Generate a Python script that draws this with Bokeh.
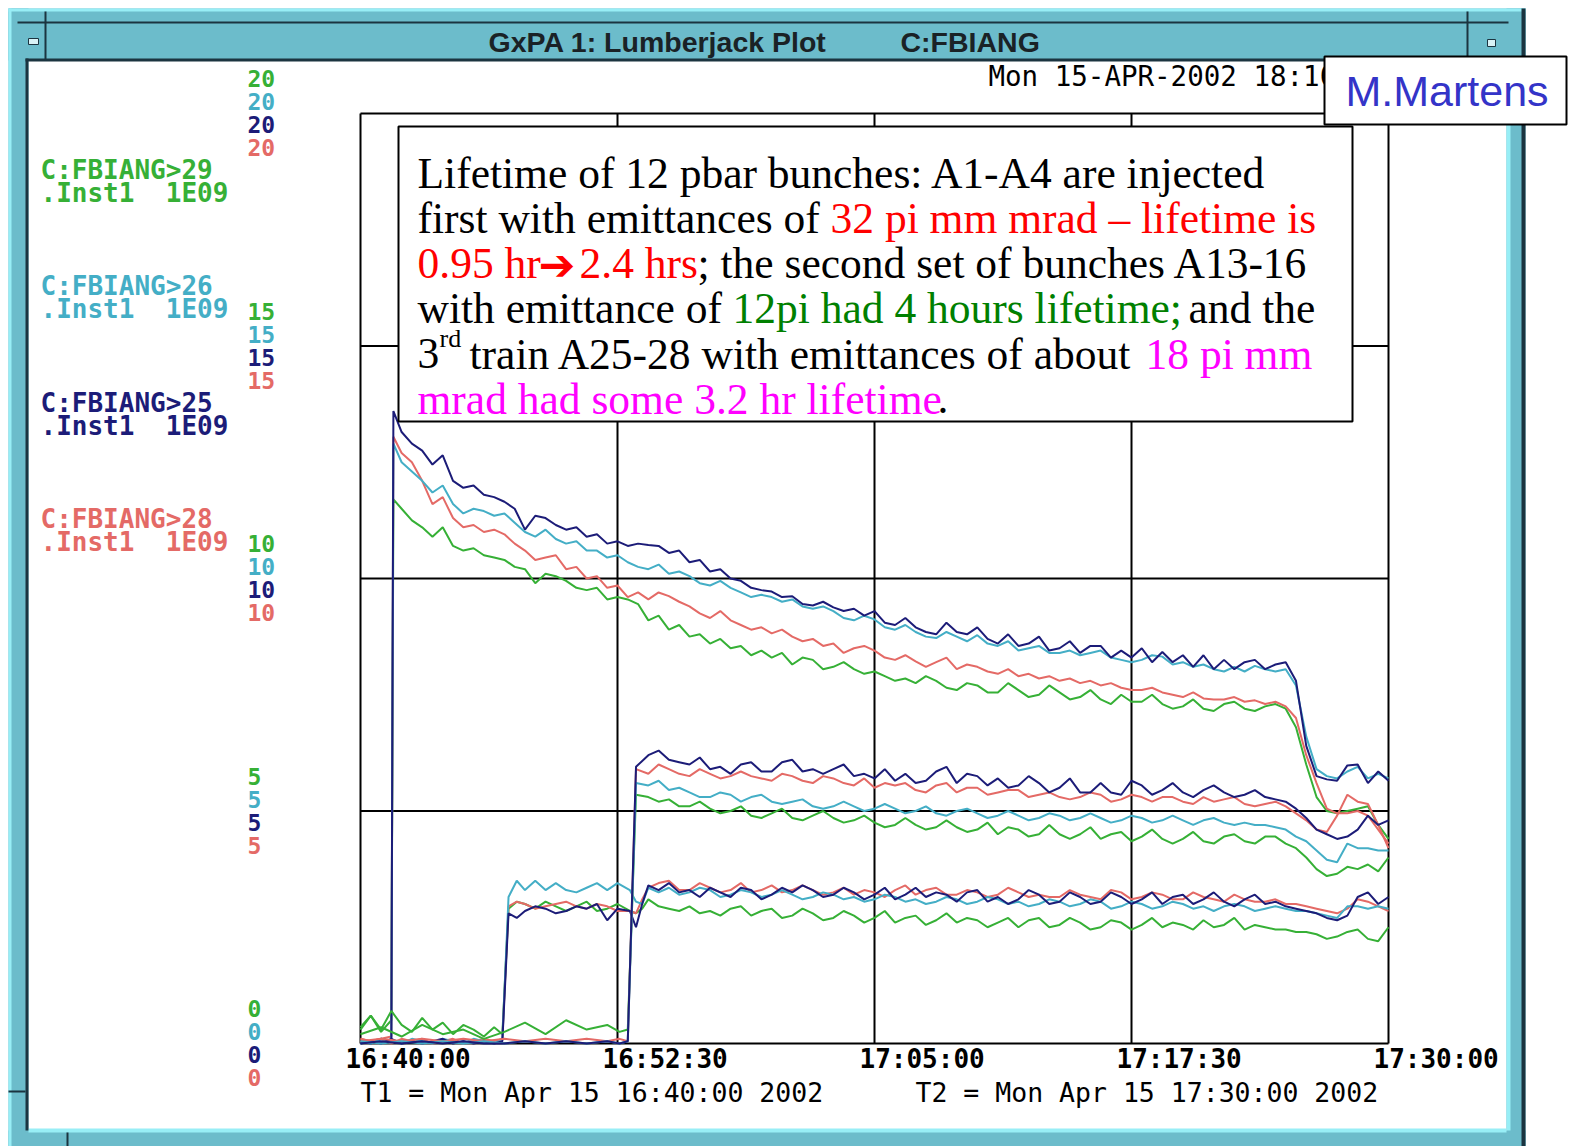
from bokeh.plotting import figure
from bokeh.models import Range1d, Label, BoxAnnotation
from bokeh.embed import file_html
from bokeh.resources import INLINE

# ---------------- data (time in minutes after 16:40:00, intensity in 1E09) -------------
# Train 1 (A1-A4)
T1 = [0, 0.5, 1.0, 1.5, 1.6, 2, 2.5, 3, 3.5, 4,
      4.5, 5, 5.5, 6, 6.5, 7, 7.5, 8, 8.5, 9,
      9.5, 10, 10.5, 11, 11.5, 12, 12.5, 13, 13.5, 14,
      14.5, 15, 15.5, 16, 16.5, 17, 17.5, 18, 18.5, 19,
      19.5, 20, 20.5, 21, 21.5, 22, 22.5, 23, 23.5, 24,
      24.5, 25, 25.5, 26, 26.5, 27, 27.5, 28, 28.5, 29,
      29.5, 30, 30.5, 31, 31.5, 32, 32.5, 33, 33.5, 34,
      34.5, 35, 35.5, 36, 36.5, 37, 37.5, 38, 38.5, 39,
      39.5, 40, 40.5, 41, 41.5, 42, 42.5, 43, 43.5, 44,
      44.5, 45, 45.5, 46, 46.5, 47, 47.5, 48, 48.5, 49,
      49.5, 50]
NAVY_1 = [0.05, 0.0, 0.1, 0.05, 13.6, 13.15, 12.9, 12.75, 12.45, 12.65,
          12.1, 11.95, 12.0, 11.8, 11.75, 11.65, 11.5, 11.05, 11.35, 11.3,
          11.15, 11.05, 11.1, 10.9, 10.95, 10.75, 10.8, 10.7, 10.75, 10.72,
          10.7, 10.55, 10.6, 10.35, 10.4, 10.15, 10.2, 10.0, 9.95, 9.8,
          9.75, 9.72, 9.6, 9.62, 9.45, 9.42, 9.5, 9.38, 9.3, 9.35,
          9.2, 9.3, 9.05, 9.0, 9.15, 8.95, 8.85, 8.8, 9.05, 8.85,
          8.8, 8.95, 8.7, 8.6, 8.8, 8.55, 8.6, 8.75, 8.45, 8.5,
          8.65, 8.4, 8.55, 8.55, 8.3, 8.45, 8.3, 8.5, 8.2, 8.42,
          8.2, 8.35, 8.1, 8.35, 8.05, 8.25, 8.05, 8.2, 8.25, 8.05,
          8.15, 8.2, 7.8, 6.4, 5.75, 5.68, 5.65, 5.98, 6.0, 5.6,
          5.85, 5.65]
CYAN_1 = [0.0, 0.05, 0.0, 0.1, 12.9, 12.5, 12.3, 12.1, 11.85, 12.0,
          11.6, 11.4, 11.5, 11.45, 11.35, 11.4, 11.2, 11.0, 10.9, 11.05,
          10.85, 10.75, 10.8, 10.6, 10.6, 10.45, 10.5, 10.35, 10.25, 10.2,
          10.3, 10.1, 10.15, 10.05, 9.9, 9.85, 9.95, 9.8, 9.7, 9.6,
          9.65, 9.6, 9.5, 9.55, 9.4, 9.35, 9.4, 9.3, 9.15, 9.1,
          9.2, 9.12, 8.95, 8.9, 9.0, 8.85, 8.75, 8.72, 8.85, 8.75,
          8.65, 8.78, 8.6, 8.55, 8.65, 8.45, 8.5, 8.55, 8.4, 8.4,
          8.45, 8.35, 8.4, 8.45, 8.3, 8.25, 8.2, 8.25, 8.35, 8.32,
          8.15, 8.2, 8.1, 8.15, 8.05, 8.0, 8.1, 8.0, 8.12, 8.05,
          8.0, 8.05, 7.7, 6.6, 5.9, 5.75, 5.7, 5.85, 5.95, 5.7,
          5.8, 5.7]
RED_1 = [0.1, 0.05, 0.1, 0.15, 13.05, 12.7, 12.5, 12.1, 11.6, 11.75,
         11.3, 11.1, 11.15, 11.0, 11.05, 10.95, 10.75, 10.6, 10.4, 10.45,
         10.5, 10.2, 10.25, 10.0, 10.05, 9.8, 9.85, 9.6, 9.7, 9.55,
         9.7, 9.62, 9.5, 9.4, 9.25, 9.15, 9.3, 9.1, 9.0, 8.9,
         8.95, 8.82, 8.9, 8.75, 8.65, 8.7, 8.55, 8.6, 8.4, 8.5,
         8.55, 8.45, 8.3, 8.25, 8.35, 8.22, 8.1, 8.2, 8.3, 8.05,
         8.15, 8.1, 8.0, 7.95, 8.05, 7.9, 7.95, 7.85, 7.9, 7.8,
         7.85, 7.75, 7.8, 7.7, 7.75, 7.65, 7.6, 7.6, 7.65, 7.55,
         7.5, 7.45, 7.55, 7.42, 7.4, 7.4, 7.45, 7.35, 7.38, 7.3,
         7.35, 7.25, 7.0, 6.2, 5.6, 5.05, 4.95, 4.95, 5.0, 4.9,
         4.6, 4.3]
GREEN_1 = [0.3, 0.6, 0.25, 0.5, 11.7, 11.5, 11.25, 11.1, 10.9, 11.1,
           10.7, 10.6, 10.65, 10.5, 10.45, 10.4, 10.25, 10.2, 9.9, 10.1,
           10.05, 9.95, 9.8, 9.75, 9.8, 9.55, 9.6, 9.55, 9.45, 9.1,
           9.2, 8.9, 9.0, 8.75, 8.8, 8.6, 8.7, 8.5, 8.55, 8.35,
           8.45, 8.3, 8.4, 8.15, 8.3, 8.25, 8.05, 8.1, 8.2, 8.05,
           7.95, 8.0, 7.9, 7.8, 7.85, 7.75, 7.9, 7.8, 7.65, 7.6,
           7.75, 7.7, 7.55, 7.55, 7.75, 7.6, 7.45, 7.5, 7.7, 7.55,
           7.4, 7.45, 7.6, 7.4, 7.3, 7.5, 7.35, 7.35, 7.5, 7.3,
           7.2, 7.25, 7.4, 7.2, 7.15, 7.3, 7.35, 7.2, 7.15, 7.25,
           7.3, 7.2, 6.8, 6.0, 5.3, 5.0, 4.95, 5.0, 5.05, 5.1,
           4.7, 4.4]

# Train 2 (A13-16)
T2 = [0, 0.5, 1, 1.5, 2, 2.5, 3, 3.5, 4, 4.5,
      5, 5.5, 6, 6.5, 6.9, 7.2, 7.6, 8, 8.5, 9,
      9.5, 10, 10.5, 11, 11.5, 12, 12.5, 13.1, 13.4, 13.7,
      14, 14.5, 15, 15.5, 16, 16.5, 17, 17.5, 18, 18.5,
      19, 19.5, 20, 20.5, 21, 21.5, 22, 22.5, 23, 23.5,
      24, 24.5, 25, 25.5, 26, 26.5, 27, 27.5, 28, 28.5,
      29, 29.5, 30, 30.5, 31, 31.5, 32, 32.5, 33, 33.5,
      34, 34.5, 35, 35.5, 36, 36.5, 37, 37.5, 38, 38.5,
      39, 39.5, 40, 40.5, 41, 41.5, 42, 42.5, 43, 43.5,
      44, 44.5, 45, 45.5, 46, 46.5, 47, 47.5, 48, 48.5,
      49, 49.5, 50]
NAVY_2 = [0.0, 0.05, 0.0, 0.1, 0.0, 0.05, 0.0, 0.05, 0.1, 0.0,
          0.05, 0.0, 0.05, 0.0, 0.05, 2.8, 2.7, 2.85, 2.95, 2.9,
          2.8, 2.85, 2.95, 2.9, 3.0, 2.65, 2.9, 2.85, 2.5, 3.0,
          3.4, 3.3, 3.45, 3.25, 3.3, 3.15, 3.35, 3.25, 3.15, 3.35,
          3.3, 3.1, 3.2, 3.35, 3.25, 3.4, 3.3, 3.15, 3.2, 3.35,
          3.25, 3.1, 3.2, 3.35, 3.1, 3.2, 3.35, 3.15, 3.25, 3.2,
          3.05, 3.25, 3.3, 3.05, 3.15, 3.0, 3.1, 3.3, 3.2, 3.0,
          3.05, 3.25, 3.15, 3.0, 3.05, 3.25, 3.15, 3.0, 3.1, 3.25,
          3.0, 3.15, 3.2, 3.0, 3.1, 3.25, 3.05, 2.95, 3.1, 3.2,
          3.0, 3.05, 2.95, 2.9, 2.85, 2.8, 2.7, 2.65, 2.75, 3.15,
          3.25, 3.0, 3.15]
RED_2 = [0.1, 0.05, 0.1, 0.0, 0.1, 0.05, 0.1, 0.0, 0.05, 0.1,
         0.0, 0.05, 0.1, 0.05, 0.1, 2.95, 3.05, 3.0, 2.9, 2.95,
         3.0, 3.05, 2.95, 2.9, 3.0, 2.95, 2.85, 2.85, 2.8, 3.1,
         3.35, 3.45, 3.5, 3.3, 3.3, 3.45, 3.35, 3.25, 3.3, 3.45,
         3.25, 3.3, 3.4, 3.25, 3.3, 3.4, 3.3, 3.2, 3.25, 3.35,
         3.2, 3.3, 3.25, 3.15, 3.3, 3.4, 3.2, 3.3, 3.35, 3.2,
         3.2, 3.3, 3.25, 3.15, 3.2, 3.35, 3.25, 3.15, 3.2, 3.15,
         3.15, 3.3, 3.2, 3.15, 3.1, 3.3, 3.25, 3.1, 3.15, 3.25,
         3.2, 3.1, 3.1, 3.25, 3.15, 3.1, 3.05, 3.2, 3.1, 3.05,
         3.05, 3.1, 3.0, 3.0, 2.95, 2.9, 2.85, 2.8, 2.9, 3.1,
         3.05, 2.95, 2.85]
CYAN_2 = [0.05, 0.0, 0.1, 0.05, 0.0, 0.1, 0.05, 0.0, 0.1, 0.05,
          0.0, 0.1, 0.05, 0.0, 0.1, 3.15, 3.5, 3.3, 3.5, 3.3,
          3.45, 3.3, 3.25, 3.35, 3.45, 3.3, 3.45, 3.3, 3.05, 3.0,
          3.35, 3.25, 3.35, 3.2, 3.25, 3.35, 3.3, 3.15, 3.2, 3.3,
          3.25, 3.15, 3.2, 3.3, 3.2, 3.1, 3.15, 3.25, 3.2, 3.1,
          3.15, 3.05, 3.1, 3.2, 3.15, 3.05, 3.1, 3.0, 3.05, 3.15,
          3.1, 3.0, 3.05, 3.15, 3.1, 3.0, 3.05, 2.95, 3.0, 3.1,
          3.05, 2.95, 3.0, 3.1, 3.05, 2.9, 2.95, 3.05, 3.0, 2.9,
          2.95, 3.05, 3.0, 2.9, 2.95, 2.85, 2.95, 3.0, 2.95, 2.85,
          2.9, 2.95, 2.9, 2.85, 2.85, 2.8, 2.75, 2.7, 2.95, 2.95,
          2.9, 2.95, 2.9]
GREEN_2 = [0.35, 0.6, 0.3, 0.7, 0.4, 0.25, 0.55, 0.3, 0.45, 0.2,
           0.4, 0.3, 0.15, 0.35, 0.2, 2.9, 3.05, 3.0, 2.9, 3.05,
           2.95, 2.85, 2.95, 3.05, 2.85, 2.9, 3.0, 2.85, 2.8, 2.9,
           3.1, 2.95, 2.9, 2.85, 2.95, 2.8, 2.85, 2.75, 2.9, 2.95,
           2.75, 2.85, 2.9, 2.7, 2.75, 2.9, 2.8, 2.65, 2.7, 2.85,
           2.75, 2.6, 2.7, 2.85, 2.6, 2.7, 2.75, 2.55, 2.65, 2.8,
           2.6, 2.7, 2.65, 2.5, 2.6, 2.7, 2.5, 2.65, 2.7, 2.5,
           2.55, 2.7, 2.6, 2.45, 2.5, 2.65, 2.6, 2.45, 2.55, 2.7,
           2.5, 2.6, 2.55, 2.45, 2.65, 2.5, 2.55, 2.7, 2.45, 2.55,
           2.5, 2.45, 2.45, 2.4, 2.4, 2.35, 2.25, 2.3, 2.4, 2.45,
           2.25, 2.2, 2.5]

# Train 3 (A25-28)
T3 = [0, 1, 2, 3, 4, 5, 6, 7, 8, 9,
      10, 11, 12, 12.6, 13.0, 13.4, 14, 14.5, 15, 15.5,
      16, 16.5, 17, 17.5, 18, 18.5, 19, 19.5, 20, 20.5,
      21, 21.5, 22, 22.5, 23, 23.5, 24, 24.5, 25, 25.5,
      26, 26.5, 27, 27.5, 28, 28.5, 29, 29.5, 30, 30.5,
      31, 31.5, 32, 32.5, 33, 33.5, 34, 34.5, 35, 35.5,
      36, 36.5, 37, 37.5, 38, 38.5, 39, 39.5, 40, 40.5,
      41, 41.5, 42, 42.5, 43, 43.5, 44, 44.5, 45, 45.5,
      46, 46.5, 47, 47.5, 48, 48.5, 49, 49.5, 50]
NAVY_3 = [0.0, 0.05, 0.0, 0.05, 0.0, 0.05, 0.0, 0.0, 0.05, 0.0,
          0.05, 0.0, 0.05, 0.0, 0.05, 5.95, 6.2, 6.3, 6.1, 6.05,
          6.0, 6.15, 5.9, 5.95, 5.8, 6.0, 6.05, 5.85, 5.85, 6.05,
          6.1, 5.85, 5.9, 5.8, 5.9, 6.0, 5.75, 5.8, 5.7, 5.9,
          5.65, 5.8, 5.6, 5.65, 5.85, 5.95, 5.6, 5.8, 5.75, 5.55,
          5.7, 5.5, 5.55, 5.75, 5.6, 5.4, 5.5, 5.7, 5.4, 5.4,
          5.6, 5.4, 5.35, 5.65, 5.55, 5.35, 5.45, 5.6, 5.4, 5.3,
          5.45, 5.55, 5.4, 5.3, 5.35, 5.45, 5.3, 5.25, 5.2, 5.05,
          4.85, 4.6, 4.5, 4.4, 4.45, 4.6, 4.9, 4.7, 4.8]
RED_3 = [0.05, 0.1, 0.05, 0.1, 0.05, 0.1, 0.05, 0.1, 0.05, 0.1,
         0.05, 0.1, 0.05, 0.1, 0.05, 5.9, 5.8, 6.0, 5.9, 5.8,
         5.75, 5.9, 5.8, 5.7, 5.75, 5.85, 5.75, 5.7, 5.65, 5.8,
         5.75, 5.65, 5.6, 5.75, 5.7, 5.6, 5.55, 5.7, 5.5, 5.6,
         5.55, 5.6, 5.45, 5.4, 5.55, 5.6, 5.4, 5.5, 5.5, 5.35,
         5.4, 5.45, 5.45, 5.3, 5.35, 5.4, 5.3, 5.25, 5.3, 5.4,
         5.35, 5.2, 5.25, 5.35, 5.3, 5.2, 5.3, 5.3, 5.2, 5.15,
         5.3, 5.2, 5.25, 5.3, 5.15, 5.1, 5.15, 5.2, 5.1, 4.95,
         4.8, 4.6, 4.55, 4.9, 5.35, 5.2, 5.15, 4.7, 4.2]
CYAN_3 = [0.05, 0.0, 0.05, 0.0, 0.05, 0.0, 0.05, 0.0, 0.05, 0.0,
          0.05, 0.0, 0.05, 0.0, 0.05, 5.6, 5.55, 5.65, 5.45, 5.5,
          5.4, 5.3, 5.3, 5.4, 5.35, 5.2, 5.3, 5.35, 5.2, 5.15,
          5.2, 5.25, 5.1, 5.05, 5.1, 5.2, 5.1, 5.0, 5.05, 5.15,
          5.05, 4.95, 5.0, 5.1, 4.95, 4.9, 5.0, 5.05, 4.95, 4.85,
          4.9, 5.0, 4.9, 4.8, 4.85, 4.95, 4.9, 4.8, 4.85, 4.95,
          4.85, 4.75, 4.8, 4.9, 4.85, 4.75, 4.8, 4.9, 4.8, 4.7,
          4.8, 4.85, 4.75, 4.7, 4.75, 4.7, 4.7, 4.65, 4.6, 4.45,
          4.35, 4.15, 3.95, 3.9, 4.3, 4.2, 4.2, 4.15, 4.15]
GREEN_3 = [0.2, 0.35, 0.15, 0.4, 0.2, 0.3, 0.1, 0.25, 0.45, 0.2,
           0.5, 0.3, 0.4, 0.25, 0.3, 5.35, 5.3, 5.2, 5.25, 5.1,
           5.1, 5.2, 5.05, 4.95, 5.0, 5.1, 4.9, 4.85, 4.95, 5.05,
           4.85, 4.8, 4.9, 5.0, 4.85, 4.75, 4.8, 4.9, 4.75, 4.65,
           4.7, 4.85, 4.7, 4.6, 4.65, 4.8, 4.65, 4.55, 4.6, 4.75,
           4.5, 4.65, 4.6, 4.45, 4.5, 4.7, 4.5, 4.4, 4.5, 4.65,
           4.4, 4.5, 4.55, 4.35, 4.45, 4.6, 4.4, 4.3, 4.4, 4.55,
           4.35, 4.3, 4.45, 4.5, 4.35, 4.3, 4.45, 4.45, 4.3, 4.2,
           4.0, 3.75, 3.6, 3.65, 3.8, 3.75, 3.85, 3.7, 4.0]

X_TICKS = [0, 12.5, 25, 37.5, 50]
X_TICK_LABELS = ["16:40:00", "16:52:30", "17:05:00", "17:17:30", "17:30:00"]
Y_TICKS = [0, 5, 10, 15, 20]
PENS = ["C:FBIANG>29", "C:FBIANG>26", "C:FBIANG>25", "C:FBIANG>28"]
PEN_UNIT = ".Inst1\u00a0\u00a01E09"

# ---------------- styles / layout -------------
NAVY = "#1c1c78"
CYAN = "#44aec6"
RED = "#e46a66"
GREEN = "#36b036"
PEN_COLORS = [GREEN, CYAN, NAVY, RED]
TEAL = "#6cbccb"
LIGHT = "#98eef6"
DARK = "#1b3440"
MONO = "DejaVu Sans Mono"
SERIF = "Liberation Serif"

W, H = 1573, 1146
PL, PR, PT, PB = 360, 1388, 113, 1043     # plot-area box on the canvas (px)
KX = (PR - PL) / (X_TICKS[-1] - X_TICKS[0])
KY = (PB - PT) / (Y_TICKS[-1] - Y_TICKS[0])
x_range = Range1d(X_TICKS[0] - PL / KX, X_TICKS[0] + (W - PL) / KX)
y_range = Range1d(Y_TICKS[0] - (H - PB) / KY, Y_TICKS[0] + PB / KY)


def sx(cx):
    return cx


def sy(cy):
    return H - cy


p = figure(frame_width=W, frame_height=H, min_border=0,
           x_range=x_range, y_range=y_range,
           output_backend="svg", toolbar_location=None,
           background_fill_color="white", border_fill_color="white")
p.xaxis.visible = False
p.yaxis.visible = False
p.grid.visible = False
p.outline_line_color = None

# plot box and grid (in data coordinates)
x0, x1 = X_TICKS[0], X_TICKS[-1]
y0, y1 = Y_TICKS[0], Y_TICKS[-1]
p.segment(x0=X_TICKS, y0=[y0] * len(X_TICKS), x1=X_TICKS, y1=[y1] * len(X_TICKS),
          line_color="black", line_width=2)
p.segment(x0=[x0] * len(Y_TICKS), y0=Y_TICKS, x1=[x1] * len(Y_TICKS), y1=Y_TICKS,
          line_color="black", line_width=2)

for t, g, r, c, n in [(T1, GREEN_1, RED_1, CYAN_1, NAVY_1),
                      (T2, GREEN_2, RED_2, CYAN_2, NAVY_2),
                      (T3, GREEN_3, RED_3, CYAN_3, NAVY_3)]:
    p.line(t, g, line_color=GREEN, line_width=2)
    p.line(t, r, line_color=RED, line_width=2)
    p.line(t, c, line_color=CYAN, line_width=2)
    p.line(t, n, line_color=NAVY, line_width=2)


def box(bx0, by0, bx1, by1, fill, line=None, lw=0):
    b = BoxAnnotation(left=sx(bx0), right=sx(bx1), top=sy(by0), bottom=sy(by1),
                      left_units="screen", right_units="screen",
                      top_units="screen", bottom_units="screen",
                      fill_color=fill, fill_alpha=1.0,
                      line_color=line, line_width=lw, line_alpha=1.0 if line else 0.0)
    p.add_layout(b)


def lab(text, cx, cy, color="black", font=MONO, size=24, style="normal",
        align="left", baseline="middle"):
    p.add_layout(Label(x=sx(cx), y=sy(cy), x_units="screen", y_units="screen",
                       text=text, text_color=color, text_font=font,
                       text_font_size=f"{size}px", text_font_style=style,
                       text_align=align, text_baseline=baseline))


# ---------------- window frame -------------
box(8, 8, 1525, 60, TEAL)
box(8, 8, 28, 1146, TEAL)
box(1506, 8, 1525, 1146, TEAL)
box(8, 1130, 1525, 1146, TEAL)
box(8, 8, 1525, 11, LIGHT)
box(8, 8, 11, 1146, LIGHT)
box(1506, 60, 1510, 1130, LIGHT)
box(28, 1128, 1506, 1132, LIGHT)
box(1521, 8, 1525, 1146, DARK)
box(25, 58, 1508, 61, DARK)
box(25, 58, 28, 1130, DARK)
box(17, 21, 1508, 23, DARK)
box(44, 11, 46, 60, DARK)
box(1466, 11, 1468, 60, DARK)
box(28, 38, 38, 44, "#d8f2f6", DARK, 1)
box(1487, 39, 1495, 46, "#d8f2f6", DARK, 1)
box(8, 1090, 25, 1092, DARK)
box(66, 1132, 68, 1146, DARK)

lab("GxPA 1: Lumberjack Plot", 488, 41, color="#1a2226", font="Liberation Sans", size=28.5, style="bold")
lab("C:FBIANG", 900, 41, color="#1a2226", font="Liberation Sans", size=28.5, style="bold")
lab("Mon 15-APR-2002 18:10", 988, 75, size=27.5)

# ---------------- pen legends and y labels -------------
pen_rows = [169, 285, 402, 518]
for name, col, cy in zip(PENS, PEN_COLORS, pen_rows):
    lab(name, 40, cy, color=col, size=26, style="bold")
    lab(PEN_UNIT, 40, cy + 23, color=col, size=26, style="bold")

for v in Y_TICKS:
    for k, col in enumerate(PEN_COLORS):
        off = [-35, -12, 11, 34][k]
        p.add_layout(Label(x=sx(247), y=v, x_units="screen", y_units="data",
                           y_offset=-off, text=str(v), text_color=col,
                           text_font=MONO, text_font_size="23px", text_font_style="bold",
                           text_align="left", text_baseline="middle"))

for v, t in zip(X_TICKS, X_TICK_LABELS):
    p.add_layout(Label(x=v, y=sy(1058), x_units="data", y_units="screen",
                       x_offset=-15, text=t, text_color="black",
                       text_font=MONO, text_font_size="26px", text_font_style="bold",
                       text_align="left", text_baseline="middle"))

lab("T1 = Mon Apr 15 16:40:00 2002", 360, 1092, size=26.5)
lab("T2 = Mon Apr 15 17:30:00 2002", 915, 1092, size=26.5)

# ---------------- annotation text box -------------
box(398, 126, 1352, 421, "white", "black", 2)
RED_T = "#ff0000"
GREEN_T = "#008000"
MAG_T = "#ff00ff"
FS = 43.5
segments = [
    ("Lifetime of 12 pbar bunches: A1-A4 are injected", 417, 172, "black"),
    ("first with emittances of", 417, 217, "black"),
    ("32 pi mm mrad \u2013 lifetime is", 830, 217, RED_T),
    ("0.95 hr", 417, 262, RED_T),
    ("2.4 hrs", 579, 262, RED_T),
    ("; the second set of bunches A13-16", 697, 262, "black"),
    ("with emittance of", 417, 307, "black"),
    ("12pi had 4 hours lifetime;", 732, 307, GREEN_T),
    ("and the", 1188, 307, "black"),
    ("3", 417, 353, "black"),
    ("train A25-28 with emittances of about", 469, 353, "black"),
    ("18 pi mm", 1145, 353, MAG_T),
    ("mrad had some 3.2 hr lifetime", 417, 398, MAG_T),
    (".", 937, 398, "black"),
]
for text, cx, cy, col in segments:
    lab(text, cx, cy, color=col, font=SERIF, size=FS, baseline="alphabetic")
lab("rd", 439, 338, color="black", font=SERIF, size=26, baseline="alphabetic")
lab("\u2794", 538, 264, color=RED_T, font="DejaVu Sans", size=44, baseline="alphabetic")

# ---------------- author box -------------
box(1324, 56, 1566, 124, "white", "black", 2)
lab("M.Martens", 1345, 90, color="#3434c8", font="Liberation Sans", size=43)

open("out.html", "w").write(file_html(p, INLINE))
